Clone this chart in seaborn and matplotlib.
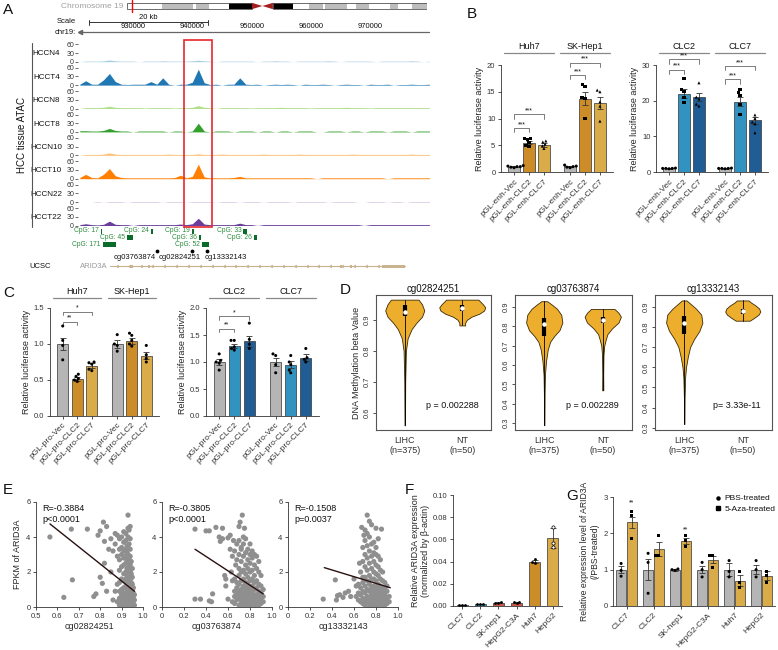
import numpy as np
import pandas as pd
import matplotlib
matplotlib.use('Agg')
import matplotlib.pyplot as plt
import matplotlib.transforms as mtransforms
from matplotlib.lines import Line2D
from matplotlib.patches import Rectangle, Polygon
import seaborn as sns

W, H = 778, 650

# ---------------- A: ATAC-seq tracks (1 kb bins from 921 kb on chr19) ----------------
TRACK_START_KB = 921
TRACK_NAMES = ['HCCN4', 'HCCT4', 'HCCN8', 'HCCT8', 'HCCN10', 'HCCT10', 'HCCN22', 'HCCT22']
HCCN4 = [0, 2, 2, 2, 3, 6, 3, 2, 2, 2, 0, 2, 2, 2, 3, 2, 2, 2, 2, 3, 5, 3, 2, 0, 2, 2, 2, 2, 2, 2,
         0, 2, 2, 3, 2, 2, 0, 2, 2, 2, 2, 2, 3, 2, 0, 2, 2, 2, 2, 2, 0, 2, 2, 2, 2, 2, 3, 2, 0, 2]
HCCT4 = [3, 15, 3, 3, 18, 40, 12, 3, 2, 3, 3, 3, 12, 3, 25, 3, 0, 3, 3, 10, 55, 8, 2, 3, 0, 3, 3, 25, 3, 2,
         3, 0, 2, 3, 2, 3, 2, 0, 3, 2, 2, 3, 2, 0, 2, 3, 2, 2, 0, 3, 2, 2, 3, 0, 2, 2, 3, 2, 2, 3]
HCCN8 = [0, 3, 3, 3, 4, 8, 4, 3, 3, 3, 3, 2, 3, 3, 3, 3, 2, 3, 3, 4, 10, 4, 3, 0, 3, 3, 3, 3, 3, 2,
         3, 3, 3, 3, 4, 3, 3, 3, 3, 2, 3, 3, 3, 3, 3, 4, 3, 3, 3, 2, 3, 3, 3, 3, 3, 3, 3, 3, 3, 3]
HCCT8 = [4, 4, 3, 3, 5, 12, 5, 3, 3, 0, 3, 3, 3, 3, 3, 0, 3, 3, 0, 3, 30, 3, 0, 3, 3, 3, 0, 3, 3, 3,
         0, 3, 3, 0, 3, 3, 0, 3, 3, 3, 0, 0, 3, 3, 3, 0, 3, 3, 0, 3, 3, 3, 0, 3, 3, 3, 0, 3, 3, 3]
HCCN10 = [0, 3, 3, 3, 4, 8, 4, 3, 3, 3, 3, 3, 3, 3, 3, 4, 3, 3, 3, 3, 5, 3, 3, 3, 4, 3, 3, 3, 3, 3,
          3, 4, 3, 3, 3, 3, 3, 4, 3, 3, 3, 3, 3, 3, 3, 3, 4, 3, 3, 3, 3, 3, 3, 3, 3, 3, 4, 3, 3, 3]
HCCT10 = [4, 15, 4, 3, 15, 35, 10, 4, 3, 3, 3, 3, 3, 3, 3, 3, 4, 12, 3, 8, 50, 6, 3, 3, 3, 3, 4, 8, 3, 3,
          3, 3, 3, 3, 3, 3, 3, 3, 3, 3, 0, 3, 3, 3, 3, 3, 3, 3, 3, 3, 3, 3, 0, 3, 3, 3, 3, 3, 3, 3]
HCCN22 = [0, 0, 0, 2, 0, 2, 2, 2, 0, 2, 2, 2, 2, 2, 0, 2, 2, 2, 0, 2, 2, 2, 2, 0, 2, 2, 2, 0, 2, 2,
          2, 0, 2, 2, 2, 2, 0, 2, 2, 2, 2, 2, 0, 2, 2, 2, 2, 0, 0, 2, 2, 2, 0, 2, 2, 0, 2, 2, 2, 2]
HCCT22 = [3, 6, 3, 2, 4, 15, 4, 3, 3, 0, 3, 3, 3, 3, 3, 3, 3, 5, 3, 6, 25, 5, 3, 3, 3, 3, 3, 8, 3, 3,
          0, 3, 3, 3, 3, 3, 3, 3, 3, 3, 3, 3, 3, 3, 3, 3, 3, 3, 0, 3, 3, 3, 3, 3, 3, 3, 3, 3, 3, 3]
TRACKS = [HCCN4, HCCT4, HCCN8, HCCT8, HCCN10, HCCT10, HCCN22, HCCT22]

# chromosome 19 ideogram (Mb)
CHR19_LEN = 58.6
BAND_START = [0, 6.8, 12.9, 13.5, 16.0, 20.0, 28.5, 32.4, 35.6, 38.3, 38.7, 42.9, 44.7, 47.3, 51.4, 52.9, 55.7]
BAND_END = [6.8, 12.9, 13.5, 16.0, 20.0, 24.4, 32.4, 35.6, 38.3, 38.7, 42.9, 44.7, 47.3, 51.4, 52.9, 55.7, 58.6]
BAND_STAIN = ['gneg', 'gpos', 'gneg', 'gpos', 'gneg', 'gpos100', 'gpos100', 'gneg', 'gpos', 'gneg',
              'gpos', 'gneg', 'gpos', 'gneg', 'gpos', 'gneg', 'gpos']
CENTROMERE = (24.4, 28.5)
ARID3A_MB = 0.93

COORD_TICKS_KB = [930, 940, 950, 960, 970]
SCALE_KB = (922.6, 942.6)
CPG_LABEL = ['CpG: 17', 'CpG: 24', 'CpG: 19', 'CpG: 33', 'CpG: 45', 'CpG: 36', 'CpG: 26', 'CpG: 171', 'CpG: 52']
CPG_START = [924.5, 933.0, 939.9, 948.6, 929.0, 941.1, 950.4, 924.9, 941.6]
CPG_END = [924.8, 933.4, 940.2, 949.2, 930.0, 941.5, 950.9, 927.1, 942.8]
CPG_ROW = [0, 0, 0, 0, 1, 1, 1, 2, 2]
CG_PROBES = ['cg03763874', 'cg02824251', 'cg13332143']
CG_KB = [934.0, 940.0, 942.5]
GENE_KB = (926.1, 975.9)
EXON_START = [929.5, 932.5, 964.9, 966.6, 972.0]
EXON_END = [929.9, 932.9, 965.3, 967.0, 975.9]
ENHANCER_KB = (938.6, 943.3)

# ---------------- B: enhancer luciferase ----------------
CONSTRUCTS = ['Vec', 'CLC2', 'CLC7']
B_ENH_LABELS = ['pGL-enh-Vec', 'pGL-enh-CLC2', 'pGL-enh-CLC7']
B1_GROUPS = ['Huh7', 'SK-Hep1']
B1_MEAN = [1.0, 5.5, 5.0, 1.05, 13.7, 12.9]
B1_SEM = [0.05, 0.35, 0.35, 0.08, 1.2, 1.1]
B1_PTS = [[1.2, 1.1, 1.0, 0.9, 1.0, 0.8], [6.3, 6.2, 6.0, 5.5, 4.9, 4.7], [5.8, 5.6, 5.2, 4.9, 4.4],
          [1.3, 1.1, 1.0, 0.9, 0.8], [16.3, 16.0, 14.0, 13.8, 10.0], [15.3, 15.0, 13.1, 12.3, 9.5]]
B2_GROUPS = ['CLC2', 'CLC7']
B2_MEAN = [1.0, 22.0, 21.0, 1.0, 19.7, 14.5]
B2_SEM = [0.05, 1.2, 1.1, 0.05, 1.3, 1.0]
B2_PTS = [[1.0, 1.0, 1.1, 0.9, 1.0], [26.2, 23.0, 22.5, 21.0, 19.5], [25.0, 21.0, 20.5, 19.0, 18.5],
          [1.0, 1.1, 0.9, 1.0, 1.0], [23.0, 22.2, 21.5, 19.0, 16.0], [16.0, 15.0, 14.0, 13.5, 11.0]]

# ---------------- C: promoter luciferase ----------------
C_PRO_LABELS = ['pGL-pro-Vec', 'pGL-pro-CLC2', 'pGL-pro-CLC7']
C1_MEAN = [1.0, 0.51, 0.70, 1.0, 1.04, 0.84]
C1_SEM = [0.09, 0.03, 0.03, 0.05, 0.04, 0.05]
C1_PTS = [[1.25, 1.05, 0.98, 0.78], [0.58, 0.55, 0.52, 0.5, 0.48], [0.75, 0.74, 0.72, 0.65, 0.63],
          [1.13, 1.0, 0.98, 0.9], [1.15, 1.12, 1.05, 1.0, 0.97], [0.98, 0.85, 0.8, 0.75]]
C2_MEAN = [1.0, 1.3, 1.38, 1.0, 0.95, 1.08]
C2_SEM = [0.05, 0.04, 0.1, 0.08, 0.06, 0.06]
C2_PTS = [[1.15, 1.03, 1.0, 0.98, 0.85], [1.4, 1.4, 1.28, 1.25, 1.22], [1.72, 1.42, 1.33, 1.25],
          [1.15, 1.12, 0.95, 0.8], [1.12, 1.0, 0.95, 0.85, 0.8], [1.25, 1.08, 1.05, 1.0]]

# ---------------- D: methylation violins (profile) ----------------
D_PROBES = ['cg02824251', 'cg03763874', 'cg13332143']
D_PVAL = ['p = 0.002288', 'p = 0.002289', 'p= 3.33e-11']
D_YLIM = [(0.545, 0.98), (0.265, 0.962), (0.29, 0.957)]
D_YTICKS = [[0.6, 0.7, 0.8, 0.9], [0.3, 0.4, 0.5, 0.6, 0.7, 0.8, 0.9], [0.3, 0.4, 0.5, 0.6, 0.7, 0.8, 0.9]]
D_LIHC_Y = [[0.56, 0.70, 0.80, 0.84, 0.87, 0.89, 0.91, 0.93, 0.95, 0.965],
            [0.29, 0.45, 0.55, 0.62, 0.68, 0.72, 0.75, 0.78, 0.82, 0.86, 0.89, 0.91, 0.93],
            [0.32, 0.45, 0.55, 0.60, 0.65, 0.70, 0.74, 0.78, 0.82, 0.86, 0.89, 0.91, 0.93]]
D_LIHC_W = [[0.004, 0.008, 0.02, 0.05, 0.12, 0.2, 0.3, 0.34, 0.3, 0.24],
            [0.003, 0.006, 0.012, 0.03, 0.06, 0.1, 0.17, 0.26, 0.31, 0.29, 0.22, 0.14, 0.05],
            [0.003, 0.006, 0.015, 0.03, 0.06, 0.1, 0.17, 0.26, 0.31, 0.29, 0.2, 0.12, 0.04]]
D_NT_Y = [[0.882, 0.89, 0.90, 0.91, 0.92, 0.93, 0.94, 0.95, 0.965],
          [0.47, 0.55, 0.65, 0.70, 0.73, 0.76, 0.79, 0.82, 0.85, 0.87, 0.89],
          [0.83, 0.845, 0.86, 0.875, 0.89, 0.905, 0.92, 0.93]]
D_NT_W = [[0.05, 0.05, 0.08, 0.16, 0.3, 0.38, 0.4, 0.36, 0.28],
          [0.01, 0.008, 0.012, 0.025, 0.05, 0.08, 0.16, 0.27, 0.31, 0.27, 0.2],
          [0.12, 0.2, 0.27, 0.3, 0.28, 0.22, 0.14, 0.1]]
D_LIHC_BOX = [(0.911, 0.926, 0.948), (0.75, 0.81, 0.845), (0.765, 0.82, 0.855)]
D_NT_BOX = [(0.928, 0.938, 0.948), (0.815, 0.835, 0.85), (0.865, 0.876, 0.89)]

# ---------------- E: methylation vs expression ----------------
E_STATS = [('R=-0.3884', 'p<0.0001'), ('R=-0.3805', 'p<0.0001'), ('R=-0.1508', 'p=0.0037')]
E1_OUT = [(0.565, 4.0), (0.63, 0.55), (0.665, 4.45), (0.67, 1.55), (0.74, 4.45), (0.77, 0.6), (0.78, 0.75),
          (0.79, 4.1), (0.80, 4.35), (0.80, 1.7), (0.81, 1.35), (0.815, 4.85), (0.82, 2.5), (0.82, 3.75),
          (0.83, 4.6), (0.83, 0.9), (0.84, 3.3), (0.85, 3.9), (0.85, 2.0), (0.86, 3.2), (0.86, 0.4),
          (0.87, 4.2), (0.87, 3.6), (0.87, 0.9), (0.88, 4.1), (0.88, 2.9), (0.88, 0.3), (0.88, 1.3)]
E1_COL_X = [0.89, 0.90, 0.91, 0.92, 0.925, 0.93, 0.935, 0.94, 0.945, 0.95, 0.955, 0.96]
E1_COL_Y = [[0.1, 0.5, 0.9, 1.4, 2.1, 2.7, 3.3, 3.9],
            [0.2, 0.4, 0.7, 1.0, 1.6, 2.3, 3.0, 3.4, 4.0],
            [0.0, 0.3, 0.6, 0.8, 1.1, 1.5, 1.9, 2.4, 2.8, 3.2, 3.7, 4.3],
            [0.1, 0.3, 0.5, 0.8, 1.2, 1.6, 2.0, 2.5, 2.9, 3.3, 3.8, 4.2],
            [0.2, 0.6, 1.0, 1.4, 1.8, 2.2, 2.7, 3.1, 3.5],
            [0.0, 0.2, 0.4, 0.7, 0.9, 1.3, 1.7, 2.1, 2.6, 3.0, 3.4, 4.0, 4.5, 5.25],
            [0.1, 0.5, 0.8, 1.1, 1.5, 2.3, 2.8, 3.6, 4.4],
            [0.0, 0.3, 0.6, 0.9, 1.2, 1.6, 2.0, 2.4, 2.9, 3.3, 3.9, 4.6],
            [0.2, 0.4, 0.8, 1.0, 1.4, 1.9, 2.6],
            [0.1, 0.3, 0.6, 0.9, 1.3, 1.7, 2.2],
            [0.2, 0.5, 0.8, 1.1],
            [0.1, 0.4, 0.7]]
E2_OUT = [(0.30, 0.45), (0.35, 0.45), (0.30, 4.45), (0.40, 4.35), (0.43, 4.35), (0.43, 0.35), (0.45, 0.3),
          (0.46, 0.75), (0.49, 4.55), (0.52, 4.0), (0.53, 3.75), (0.55, 3.9), (0.55, 4.5), (0.57, 1.8),
          (0.58, 1.6), (0.58, 1.2), (0.60, 3.95), (0.60, 0.45), (0.62, 4.1), (0.62, 3.3), (0.63, 2.0),
          (0.65, 3.8), (0.66, 0.6), (0.67, 2.4), (0.68, 3.6), (0.68, 1.1), (0.70, 4.6), (0.71, 4.85),
          (0.73, 5.25), (0.75, 4.5), (0.74, 4.0), (0.72, 3.3)]
E2_COL_X = [0.64, 0.66, 0.68, 0.70, 0.72, 0.74, 0.76, 0.78, 0.80, 0.82, 0.84, 0.86, 0.88, 0.90, 0.92]
E2_COL_Y = [[0.3, 1.5, 2.9], [0.2, 0.9, 1.6, 3.2], [0.4, 0.7, 1.4, 2.7],
            [0.1, 0.5, 0.9, 1.3, 1.8, 2.2, 3.0, 3.8], [0.2, 0.4, 0.7, 1.0, 1.5, 2.0, 2.6, 3.4],
            [0.0, 0.3, 0.6, 0.9, 1.2, 1.6, 2.1, 2.9, 3.6], [0.1, 0.3, 0.5, 0.8, 1.1, 1.4, 1.9, 2.4, 3.1, 3.9],
            [0.0, 0.2, 0.4, 0.7, 1.0, 1.3, 1.7, 2.2, 2.7, 3.3], [0.1, 0.3, 0.5, 0.8, 1.1, 1.5, 2.0, 2.5, 3.0, 3.6],
            [0.0, 0.2, 0.4, 0.6, 0.9, 1.2, 1.6, 2.1, 2.8, 3.2], [0.1, 0.3, 0.5, 0.7, 1.0, 1.4, 1.8, 2.4, 3.0],
            [0.0, 0.2, 0.4, 0.7, 1.1, 1.5, 2.2, 2.9], [0.1, 0.3, 0.6, 0.9, 1.3, 2.0, 2.6],
            [0.2, 0.5, 0.8, 1.2, 1.8], [0.3, 0.6, 1.0]]
E3_OUT = [(0.32, 0.45), (0.43, 1.55), (0.44, 0.4), (0.45, 0.65), (0.47, 0.7), (0.50, 0.55), (0.52, 0.8),
          (0.55, 0.9), (0.57, 0.6), (0.60, 1.6), (0.62, 0.6), (0.62, 1.2), (0.65, 2.5), (0.67, 4.55),
          (0.68, 1.7), (0.69, 4.1), (0.70, 4.4), (0.72, 5.25), (0.74, 4.9), (0.76, 4.7), (0.78, 3.7),
          (0.80, 4.5), (0.85, 4.45), (0.82, 3.9)]
E3_COL_X = [0.64, 0.66, 0.68, 0.70, 0.72, 0.74, 0.76, 0.78, 0.80, 0.82, 0.84, 0.86, 0.88, 0.90, 0.92]
E3_COL_Y = [[0.4, 0.8, 1.3], [0.3, 0.7, 1.1, 2.0], [0.2, 0.5, 0.9, 1.4, 2.6, 3.4],
            [0.1, 0.4, 0.8, 1.2, 1.7, 2.3, 3.0, 3.8], [0.3, 0.6, 1.0, 1.5, 2.1, 2.8, 3.5, 4.2],
            [0.0, 0.2, 0.5, 0.9, 1.3, 1.8, 2.5, 3.2, 4.0], [0.1, 0.4, 0.7, 1.1, 1.6, 2.2, 2.9, 3.6],
            [0.0, 0.3, 0.6, 0.9, 1.2, 1.6, 2.0, 2.6, 3.1], [0.1, 0.3, 0.5, 0.8, 1.1, 1.5, 1.9, 2.4, 3.0, 3.4],
            [0.0, 0.2, 0.4, 0.7, 1.0, 1.3, 1.8, 2.3, 2.9], [0.1, 0.3, 0.6, 0.9, 1.2, 1.6, 2.1, 2.7],
            [0.0, 0.2, 0.5, 0.8, 1.1, 1.5, 2.0], [0.1, 0.4, 0.7, 1.0, 1.4],
            [0.2, 0.5, 0.9, 1.2], [0.3, 0.6]]
E_FIT_X = [(0.565, 0.96), (0.30, 0.92), (0.33, 0.93)]
E_FIT_Y = [(4.75, 0.9), (3.3, 0.75), (2.25, 1.1)]
E_XLIM = [(0.5, 1.0), (0.0, 1.0), (0.0, 1.0)]
E_XTICKS = [[0.5, 0.6, 0.7, 0.8, 0.9, 1.0], [0, 0.2, 0.4, 0.6, 0.8, 1.0], [0, 0.2, 0.4, 0.6, 0.8, 1.0]]
E_XTL = [['0.5', '0.6', '0.7', '0.8', '0.9', '1.0'], ['0', '0.2', '0.4', '0.6', '0.8', '1.0'],
         ['0', '0.2', '0.4', '0.6', '0.8', '1.0']]

# ---------------- F: basal ARID3A expression ----------------
F_CELLS = ['CLC7', 'CLC2', 'SK-hep1', 'HepG2-C3A', 'Huh7', 'HepG2']
F_MEAN = [0.001, 0.0015, 0.003, 0.003, 0.040, 0.061]
F_SEM = [0.0001, 0.0001, 0.0003, 0.0005, 0.001, 0.009]
F_PTS = [[0.001, 0.001, 0.001], [0.0015, 0.0015, 0.0015], [0.003, 0.0035, 0.003],
         [0.0025, 0.0035, 0.004], [0.042, 0.040, 0.039], [0.071, 0.057, 0.053]]

# ---------------- G: 5-Aza treatment ----------------
G_CELLS = ['CLC7', 'CLC2', 'SK-hep1', 'HepG2-C3A', 'Huh7', 'HepG2']
G_TREAT = ['PBS-treated', '5-Aza-treated']
G_PBS_MEAN = [1.0, 1.0, 1.0, 1.0, 1.0, 1.0]
G_PBS_SEM = [0.1, 0.28, 0.03, 0.09, 0.17, 0.12]
G_AZA_MEAN = [2.3, 1.57, 1.8, 1.27, 0.7, 0.83]
G_AZA_SEM = [0.15, 0.2, 0.08, 0.1, 0.15, 0.12]
G_PBS_PTS = [[1.17, 0.98, 0.82], [1.45, 1.2, 0.35], [1.02, 1.0, 0.98], [1.2, 1.0, 0.8], [1.25, 0.95, 0.8],
             [1.25, 1.0, 0.8]]
G_AZA_PTS = [[2.6, 2.5, 1.85], [1.95, 1.4, 1.4], [1.95, 1.8, 1.65], [1.4, 1.4, 1.05], [0.95, 0.65, 0.5],
             [0.95, 0.85, 0.65]]

GREY = '#b5b5b5'
ORANGE_DK = '#e8930c'
ORANGE_LT = '#f2b531'
BLUE_LT = '#1b9bd7'
BLUE_DK = '#0b5ea8'
RED = '#e2452b'
VIOLIN = '#eeae2d'

sns.set_theme(style='ticks')
plt.rcParams['font.family'] = ['Liberation Sans', 'DejaVu Sans']
plt.rcParams['axes.linewidth'] = 0.6
plt.rcParams['axes.edgecolor'] = '#333333'
plt.rcParams['xtick.color'] = '#333333'
plt.rcParams['ytick.color'] = '#333333'
plt.rcParams['text.color'] = '#111111'

fig = plt.figure(figsize=(W / 100, H / 100), dpi=100)


def px_axes(x0, y0, x1, y1):
    return fig.add_axes([x0 / W, 1 - y1 / H, (x1 - x0) / W, (y1 - y0) / H])


def gp_style(ax, labelsize=5.5):
    sns.despine(ax=ax)
    ax.tick_params(length=2.5, width=0.6, labelsize=labelsize, pad=1.5)


def bracket(ax, x1, x2, y, label, drop):
    ax.plot([x1, x1, x2, x2], [y - drop, y, y, y - drop], color='#666666', lw=0.6, clip_on=False)
    ax.text((x1 + x2) / 2, y, label, ha='center', va='bottom', fontsize=5, clip_on=False)


def group_headers(ax, groups, line_y, text_y):
    tr = mtransforms.blended_transform_factory(ax.transData, ax.transAxes)
    for gi, g in enumerate(groups):
        ax.plot([gi - 0.44, gi + 0.44], [line_y, line_y], color='#888888', lw=0.9, transform=tr, clip_on=False)
        ax.text(gi, text_y, g, ha='center', va='center', fontsize=6.5, transform=tr)


def luc_panel(ax, groups, means, sems, pts, palette, markers, xlabels, ylim, yticks, ylabel):
    rows = []
    prow = []
    for gi, g in enumerate(groups):
        for ci, c in enumerate(CONSTRUCTS):
            k = gi * len(CONSTRUCTS) + ci
            rows.append((g, c, means[k]))
            for v in pts[k]:
                prow.append((g, c, v))
    bdf = pd.DataFrame(rows, columns=['group', 'construct', 'value'])
    pdf = pd.DataFrame(prow, columns=['group', 'construct', 'value'])
    sns.barplot(data=bdf, x='group', y='value', hue='construct', order=groups, hue_order=CONSTRUCTS,
                palette=palette, width=0.8, gap=0.25, errorbar=None, edgecolor='#333333',
                linewidth=0.5, legend=False, ax=ax)
    bars = sorted(ax.patches, key=lambda p: p.get_x())
    centers = [p.get_x() + p.get_width() / 2 for p in bars]
    ax.errorbar(centers, means, yerr=sems, fmt='none', ecolor='#333333', elinewidth=0.6,
                capsize=2, capthick=0.6, zorder=4)
    for c, m in zip(CONSTRUCTS, markers):
        sns.swarmplot(data=pdf[pdf['construct'] == c], x='group', y='value', hue='construct',
                      order=groups, hue_order=CONSTRUCTS, dodge=True,
                      palette={k: 'black' for k in CONSTRUCTS}, marker=m, size=2.2,
                      legend=False, ax=ax, zorder=5)
    ax.set_xlim(-0.5, len(groups) - 0.5)
    ax.set_ylim(*ylim)
    ax.set_yticks(yticks)
    ax.set_xticks(centers, xlabels * len(groups), rotation=45, ha='right', rotation_mode='anchor')
    ax.set_xlabel('')
    ax.set_ylabel(ylabel, fontsize=6.5, labelpad=2)
    gp_style(ax)
    ax.tick_params(axis='x', labelsize=6)
    return centers


# ================= A =================
ax_id = px_axes(127, 2, 427, 10)
stain_col = {'gneg': 'white', 'gpos': '#bdbdbd', 'gpos100': 'black'}
for s, e, st in zip(BAND_START, BAND_END, BAND_STAIN):
    ax_id.add_patch(Rectangle((s, 0.1), e - s, 0.8, fc=stain_col[st], ec='none'))
ax_id.add_patch(Rectangle((0, 0.1), CENTROMERE[0], 0.8, fc='none', ec='#555555', lw=0.6))
ax_id.add_patch(Rectangle((CENTROMERE[1], 0.1), CHR19_LEN - CENTROMERE[1], 0.8, fc='none', ec='#555555', lw=0.6))
mid = sum(CENTROMERE) / 2
ax_id.add_patch(Polygon([(CENTROMERE[0], 0.9), (mid, 0.5), (CENTROMERE[0], 0.1)], fc='#a32020', ec='none'))
ax_id.add_patch(Polygon([(CENTROMERE[1], 0.9), (mid, 0.5), (CENTROMERE[1], 0.1)], fc='#a32020', ec='none'))
ax_id.plot([ARID3A_MB, ARID3A_MB], [-0.2, 1.2], color='red', lw=1, clip_on=False)
ax_id.text(-0.8, 0.5, 'Chromosome 19', ha='right', va='center', fontsize=6, color='#a0a0a0')
ax_id.set_xlim(0, CHR19_LEN)
ax_id.set_ylim(0, 1)
ax_id.axis('off')

track_pal = sns.color_palette('Paired', 10)
track_cols = [track_pal[i] for i in [0, 1, 2, 3, 6, 7, 8, 9]]
for i, (name, vals) in enumerate(zip(TRACK_NAMES, TRACKS)):
    top = 44.3 + i * 23.4
    ax = px_axes(78, top, 430, top + 17.4)
    xs = TRACK_START_KB + np.arange(len(vals))
    ax.fill_between(xs, vals, color=track_cols[i], lw=0)
    ax.set_xlim(920.7, 980.1)
    ax.set_ylim(0, 60)
    ax.set_yticks([0, 30, 60])
    ax.set_xticks([])
    for sp in ax.spines.values():
        sp.set_visible(False)
    ax.patch.set_alpha(0)
    ax.tick_params(axis='y', length=2, width=0.5, labelsize=5, pad=0.8)
    ax.text(-0.09, 0.45, name, transform=ax.transAxes, ha='center', va='center', fontsize=5.8)

ax_g = px_axes(78, 12, 430, 272)
ax_g.set_xlim(920.7, 980.1)
ax_g.set_ylim(272, 12)
ax_g.axis('off')
ax_g.patch.set_alpha(0)
# scale bar and coordinates
ax_g.plot([SCALE_KB[0], SCALE_KB[1]], [22, 22], color='#333333', lw=0.7)
for xk in SCALE_KB:
    ax_g.plot([xk, xk], [19.5, 24.5], color='#333333', lw=0.7)
ax_g.text(sum(SCALE_KB) / 2, 17.5, '20 kb', ha='center', va='center', fontsize=5.5)
ax_g.text(918.8, 21.5, 'Scale', ha='center', va='center', fontsize=5.5)
for kb in COORD_TICKS_KB:
    ax_g.text(kb, 27, f'{kb * 1000:d}', ha='center', va='center', fontsize=5.5)
ax_g.plot([921.0, 980.0], [32, 32], color='#666666', lw=0.9)
ax_g.plot([921.0], [32], marker='<', ms=3, color='#666666')
ax_g.text(920.4, 32, 'chr19:', ha='right', va='center', fontsize=5.5)
# track bracket
ax_g.plot([912.9, 912.9], [43, 227], color='#555555', lw=0.8, clip_on=False)
ax_g.text(911.2, 135, 'HCC tissue ATAC', rotation=90, ha='center', va='center', fontsize=7)
# enhancer box
ax_g.add_patch(Rectangle((ENHANCER_KB[0], 40), ENHANCER_KB[1] - ENHANCER_KB[0], 187,
                         fc='none', ec='#e8282d', lw=1.2, zorder=10))
# CpG islands
row_y = [231, 237.5, 244]
for lab, s, e, r in zip(CPG_LABEL, CPG_START, CPG_END, CPG_ROW):
    ax_g.add_patch(Rectangle((s, row_y[r] - 2.5), e - s, 5, fc='#0a6b2a', ec='none'))
    ax_g.text(s - 0.35, row_y[r], lab, ha='right', va='center', fontsize=4.8, color='#2a8a3a')
# CpG probes
ax_g.scatter(CG_KB, [251] * len(CG_KB), s=3, color='black', zorder=5)
for lab, xc in zip(CG_PROBES, [930.2, 937.8, 945.6]):
    ax_g.text(xc, 257.5, lab, ha='center', va='center', fontsize=5.5)
# gene model
ax_g.text(914.3, 266, 'UCSC', ha='center', va='center', fontsize=5.5)
ax_g.text(921.0, 266, 'ARID3A', ha='left', va='center', fontsize=5.5, color='#9a9a9a')
ax_g.plot(list(GENE_KB), [266, 266], color='#c9b38f', lw=0.8)
chev = np.arange(GENE_KB[0] + 1, GENE_KB[1] - 4, 2.0)
ax_g.scatter(chev, [266] * len(chev), marker=4, s=5, color='#c9b38f', lw=0.5)
for s, e in zip(EXON_START, EXON_END):
    ax_g.add_patch(Rectangle((s, 264.5), e - s, 3, fc='#c9b38f', ec='none'))

# ================= B =================
axb1 = px_axes(501, 65, 613, 172)
cb1 = luc_panel(axb1, B1_GROUPS, B1_MEAN, B1_SEM, B1_PTS,
                {'Vec': GREY, 'CLC2': ORANGE_DK, 'CLC7': ORANGE_LT}, ['o', 's', '^'], B_ENH_LABELS,
                (0, 20), [0, 5, 10, 15, 20], 'Relative luciferase activity')
group_headers(axb1, B1_GROUPS, 1.112, 1.17)
bracket(axb1, cb1[0], cb1[1], 8.2, '***', 0.8)
bracket(axb1, cb1[0], cb1[2], 10.8, '***', 0.8)
bracket(axb1, cb1[3], cb1[4], 18.1, '***', 0.8)
bracket(axb1, cb1[3], cb1[5], 20.4, '***', 0.8)

axb2 = px_axes(656, 65, 768, 172)
cb2 = luc_panel(axb2, B2_GROUPS, B2_MEAN, B2_SEM, B2_PTS,
                {'Vec': GREY, 'CLC2': BLUE_LT, 'CLC7': BLUE_DK}, ['o', 's', '^'], B_ENH_LABELS,
                (0, 30), [0, 10, 20, 30], 'Relative luciferase activity')
group_headers(axb2, B2_GROUPS, 1.112, 1.17)
bracket(axb2, cb2[0], cb2[1], 28.7, '***', 1.2)
bracket(axb2, cb2[0], cb2[2], 31.6, '***', 1.2)
bracket(axb2, cb2[3], cb2[4], 26.0, '***', 1.2)
bracket(axb2, cb2[3], cb2[5], 29.7, '***', 1.2)

# ================= C =================
axc1 = px_axes(50, 308, 159, 416)
cc1 = luc_panel(axc1, B1_GROUPS, C1_MEAN, C1_SEM, C1_PTS,
                {'Vec': GREY, 'CLC2': ORANGE_DK, 'CLC7': ORANGE_LT}, ['o', 'o', 'o'], C_PRO_LABELS,
                (0, 1.5), [0, 0.5, 1.0, 1.5], 'Relative luciferase activity')
axc1.set_yticklabels(['0.0', '0.5', '1.0', '1.5'])
group_headers(axc1, B1_GROUPS, 1.093, 1.15)
bracket(axc1, cc1[0], cc1[1], 1.31, '**', 0.05)
bracket(axc1, cc1[0], cc1[2], 1.45, '*', 0.05)

axc2 = px_axes(206, 308, 319, 416)
cc2 = luc_panel(axc2, B2_GROUPS, C2_MEAN, C2_SEM, C2_PTS,
                {'Vec': GREY, 'CLC2': BLUE_LT, 'CLC7': BLUE_DK}, ['o', 'o', 'o'], C_PRO_LABELS,
                (0, 2.0), [0, 0.5, 1.0, 1.5, 2.0], 'Relative luciferase activity')
axc2.set_yticklabels(['0.0', '0.5', '1.0', '1.5', '2.0'])
group_headers(axc2, B2_GROUPS, 1.093, 1.15)
bracket(axc2, cc2[0], cc2[1], 1.62, '**', 0.07)
bracket(axc2, cc2[0], cc2[2], 1.85, '*', 0.07)

# ================= D =================
d_boxes = [(376, 295, 491, 430), (515, 295, 632, 430), (655, 295, 772, 430)]
d_ptx = [0.66, 0.66, 0.70]
for k, bx in enumerate(d_boxes):
    ax = px_axes(*bx)
    for pos, ys, ws, box in [(1, D_LIHC_Y[k], D_LIHC_W[k], D_LIHC_BOX[k]), (2, D_NT_Y[k], D_NT_W[k], D_NT_BOX[k])]:
        ys = np.array(ys)
        ws = np.array(ws)
        ax.fill_betweenx(ys, pos - ws, pos + ws, facecolor=VIOLIN, edgecolor='#3a2a05', lw=0.6)
        ax.plot([pos, pos], [ys.min(), ys.max()], color='black', lw=0.6)
        ax.plot([pos, pos], [box[0], box[2]], color='black', lw=3, solid_capstyle='butt')
        ax.scatter([pos], [box[1]], s=5, color='white', zorder=5)
    ax.set_xlim(0.5, 2.5)
    ax.set_ylim(*D_YLIM[k])
    ax.set_yticks(D_YTICKS[k])
    ax.set_yticklabels([f'{t:.1f}' for t in D_YTICKS[k]], rotation=90, va='center')
    ax.set_xticks([1, 2], ['LIHC\n(n=375)', 'NT\n(n=50)'])
    ax.tick_params(axis='x', length=0, labelsize=6.5, pad=4)
    ax.tick_params(axis='y', length=2.5, width=0.6, labelsize=5.5, pad=1.5)
    for sp in ax.spines.values():
        sp.set_color('#555555')
        sp.set_linewidth(0.8)
    ax.set_title(D_PROBES[k], fontsize=7, pad=2)
    ax.text(d_ptx[k], 0.18, D_PVAL[k], transform=ax.transAxes, ha='center', va='center', fontsize=6.5)
    if k == 0:
        ax.set_ylabel('DNA Methylation beta Value', fontsize=6.5, labelpad=2)

# ================= E =================
e_boxes = [(36, 502, 143, 607), (162, 502, 272, 607), (288, 502, 398, 607)]
e_data = [(E1_OUT, E1_COL_X, E1_COL_Y), (E2_OUT, E2_COL_X, E2_COL_Y), (E3_OUT, E3_COL_X, E3_COL_Y)]
e_xlabels = ['cg02824251', 'cg03763874', 'cg13332143']
for k, bx in enumerate(e_boxes):
    ax = px_axes(*bx)
    out, cx, cy = e_data[k]
    xs = [p[0] for p in out] + [x for x, col in zip(cx, cy) for _ in col]
    ys = [p[1] for p in out] + [y for col in cy for y in col]
    sns.scatterplot(x=xs, y=ys, color='#8f8f8f', s=14, edgecolor='none', ax=ax, zorder=2)
    sns.lineplot(x=list(E_FIT_X[k]), y=list(E_FIT_Y[k]), color='#2a1010', lw=1, ax=ax, zorder=3)
    ax.set_xlim(*E_XLIM[k])
    ax.set_ylim(0, 6)
    ax.set_yticks([0, 2, 4, 6])
    ax.set_xticks(E_XTICKS[k], E_XTL[k])
    gp_style(ax)
    ax.set_xlabel(e_xlabels[k], fontsize=6.5, labelpad=2)
    ax.text(0.06, 0.98, E_STATS[k][0] + '\n' + E_STATS[k][1], transform=ax.transAxes,
            ha='left', va='top', fontsize=6.5, linespacing=1.3)
    if k == 0:
        ax.set_ylabel('FPKM of ARID3A', fontsize=6.5, labelpad=3)

# ================= F =================
axf = px_axes(453, 495, 562, 606)
f_cols = [BLUE_DK, BLUE_LT, RED, RED, ORANGE_DK, ORANGE_LT]
sns.barplot(x=F_CELLS, y=F_MEAN, hue=F_CELLS, palette=f_cols, order=F_CELLS, width=0.6,
            errorbar=None, edgecolor='#333333', linewidth=0.5, legend=False, ax=axf)
fbars = sorted(axf.patches, key=lambda p: p.get_x())
fcent = [p.get_x() + p.get_width() / 2 for p in fbars]
axf.errorbar(fcent, F_MEAN, yerr=F_SEM, fmt='none', ecolor='#333333', elinewidth=0.6, capsize=2,
             capthick=0.6, zorder=4)
fp = pd.DataFrame([(c, v) for c, vals in zip(F_CELLS, F_PTS) for v in vals], columns=['cell', 'value'])
sns.swarmplot(data=fp[fp['cell'] != 'HepG2'], x='cell', y='value', order=F_CELLS, color='black',
              size=2, ax=axf, zorder=5)
sns.swarmplot(data=fp[fp['cell'] == 'HepG2'], x='cell', y='value', order=F_CELLS, color='white',
              edgecolor='black', linewidth=0.5, size=2.3, ax=axf, zorder=5)
axf.set_xlim(-0.5, len(F_CELLS) - 0.5)
axf.set_ylim(0, 0.10)
axf.set_yticks([0, 0.02, 0.04, 0.06, 0.08, 0.10], ['0.00', '0.02', '0.04', '0.06', '0.08', '0.10'])
axf.set_xticks(fcent, F_CELLS, rotation=45, ha='right', rotation_mode='anchor')
axf.set_xlabel('')
axf.set_ylabel('Relative ARID3A expression\n(normalized by β-actin)', fontsize=6.5, labelpad=2)
gp_style(axf)
axf.tick_params(axis='x', labelsize=6)

# ================= G =================
axg = px_axes(613, 497, 775, 606)
grow = []
gpts = []
for i, c in enumerate(G_CELLS):
    grow.append((c, G_TREAT[0], G_PBS_MEAN[i], G_PBS_SEM[i]))
    grow.append((c, G_TREAT[1], G_AZA_MEAN[i], G_AZA_SEM[i]))
    gpts += [(c, G_TREAT[0], v) for v in G_PBS_PTS[i]]
    gpts += [(c, G_TREAT[1], v) for v in G_AZA_PTS[i]]
gdf = pd.DataFrame(grow, columns=['cell', 'treat', 'value', 'sem'])
gpdf = pd.DataFrame(gpts, columns=['cell', 'treat', 'value'])
sns.barplot(data=gdf, x='cell', y='value', hue='treat', order=G_CELLS, hue_order=G_TREAT,
            palette={G_TREAT[0]: GREY, G_TREAT[1]: ORANGE_LT}, width=0.8, gap=0.12, errorbar=None,
            edgecolor='#333333', linewidth=0.5, legend=False, ax=axg)
gbars = sorted(axg.patches, key=lambda p: p.get_x())
gcent = [p.get_x() + p.get_width() / 2 for p in gbars]
axg.errorbar(gcent, gdf['value'], yerr=gdf['sem'], fmt='none', ecolor='#333333', elinewidth=0.6,
             capsize=2, capthick=0.6, zorder=4)
for t, m in zip(G_TREAT, ['o', 's']):
    sns.swarmplot(data=gpdf[gpdf['treat'] == t], x='cell', y='value', hue='treat', order=G_CELLS,
                  hue_order=G_TREAT, dodge=True, palette={k: 'black' for k in G_TREAT},
                  marker=m, size=2.2, legend=False, ax=axg, zorder=5)
axg.set_xlim(-0.5, len(G_CELLS) - 0.5)
axg.set_ylim(0, 3)
axg.set_yticks([0, 1, 2, 3])
axg.set_xticks(range(len(G_CELLS)), G_CELLS, rotation=45, ha='right', rotation_mode='anchor')
axg.set_xlabel('')
axg.set_ylabel('Relative expression level of ARID3A\n(/PBS-treated)', fontsize=6.2, labelpad=3)
gp_style(axg)
axg.tick_params(axis='x', labelsize=6)
axg.text(gcent[1], 2.75, '**', ha='center', va='bottom', fontsize=5)
axg.text(gcent[5], 2.0, '**', ha='center', va='bottom', fontsize=5)
handles = [Line2D([], [], marker='o', ls='', color='black', ms=2.2, label=G_TREAT[0]),
           Line2D([], [], marker='s', ls='', color='black', ms=2.2, label=G_TREAT[1])]
axg.legend(handles=handles, loc='upper left', bbox_to_anchor=(0.6, 1.06), frameon=False, fontsize=6,
           handlelength=0.8, handletextpad=0.4, labelspacing=0.35, borderpad=0)

# panel letters
for lab, x, y in [('A', 3, 10), ('B', 467, 14), ('C', 3, 293), ('D', 340, 290), ('E', 3, 490),
                  ('F', 405, 490), ('G', 566, 496)]:
    fig.text(x / W, 1 - y / H, lab, fontsize=11, ha='left', va='center')

fig.savefig('out.png', dpi=100)
